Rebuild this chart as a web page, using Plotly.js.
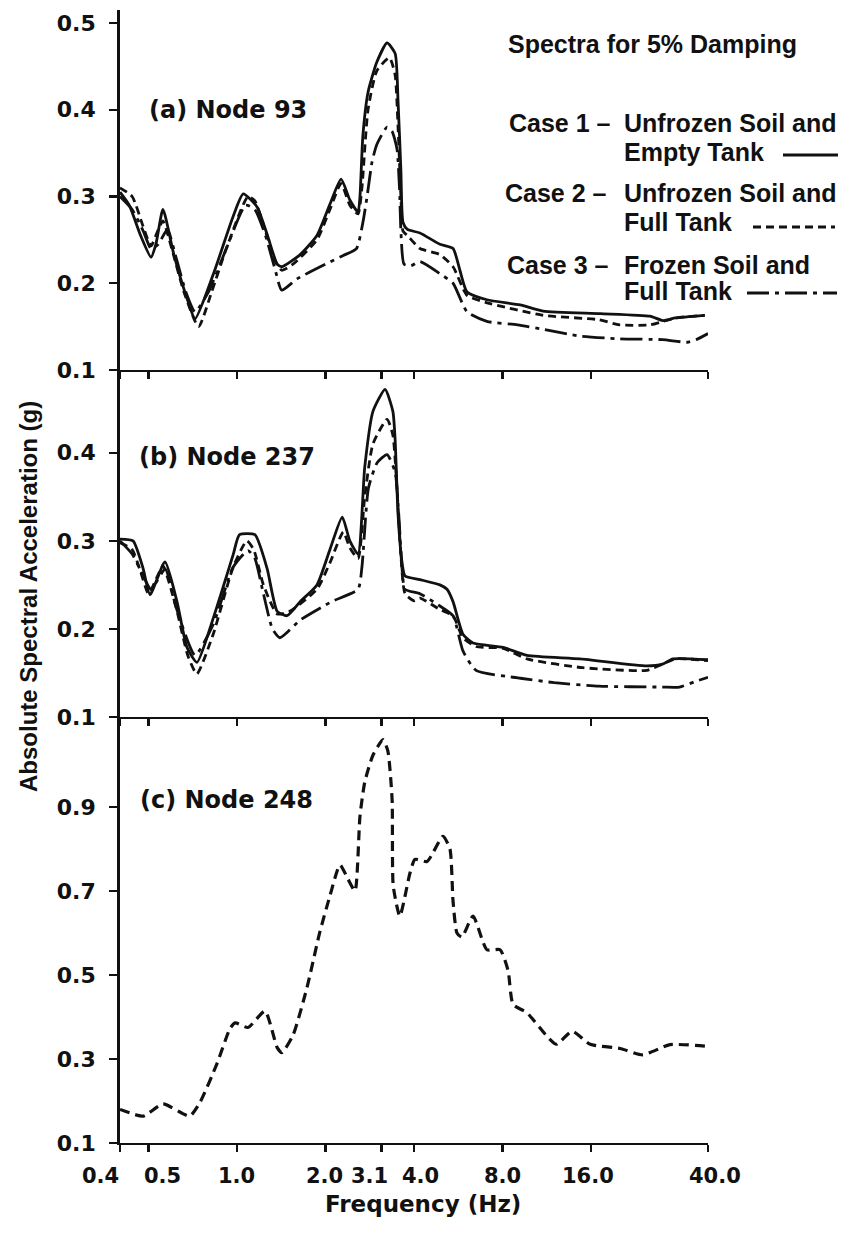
<!DOCTYPE html>
<html>
<head>
<meta charset="utf-8">
<script src="https://cdn.plot.ly/plotly-3.0.1.min.js"></script>
<style>
  html, body { margin: 0; padding: 0; background: #ffffff; }
  #chart { width: 844px; height: 1245px; }
</style>
</head>
<body>
<div id="chart"></div>
<script>
// ---------------- DATA ----------------
// Panel (a) Node 93
const freqA_case1 = [0.40,0.43,0.47,0.51,0.53,0.56,0.61,0.68,0.72,0.83,0.97,1.05,1.17,1.27,1.37,1.42,1.64,1.87,2.07,2.26,2.42,2.58,2.62,2.68,2.79,2.99,3.24,3.45,3.53,3.61,3.67,3.8,4.19,4.9,5.43,5.73,6.06,7.08,9.18,11.0,17.2,25.4,28.1,31.0,39.0];
const accA_case1  = [0.305,0.29,0.255,0.23,0.245,0.285,0.233,0.18,0.159,0.21,0.277,0.303,0.288,0.255,0.222,0.219,0.233,0.255,0.291,0.32,0.296,0.282,0.30,0.37,0.42,0.455,0.477,0.465,0.41,0.33,0.27,0.262,0.258,0.245,0.24,0.215,0.19,0.181,0.175,0.168,0.165,0.162,0.157,0.16,0.163];

const freqA_case2 = [0.40,0.44,0.48,0.51,0.54,0.56,0.60,0.66,0.74,0.82,0.92,1.09,1.15,1.25,1.35,1.42,1.55,1.87,2.07,2.26,2.42,2.58,2.66,2.79,2.99,3.3,3.45,3.53,3.61,3.67,3.8,4.19,4.9,5.43,6.06,7.0,11.0,17.0,20.0,25.4,28.1,31.0,39.0];
const accA_case2  = [0.31,0.30,0.265,0.243,0.262,0.272,0.24,0.19,0.15,0.19,0.24,0.30,0.295,0.26,0.225,0.215,0.222,0.25,0.285,0.315,0.29,0.28,0.31,0.40,0.445,0.46,0.44,0.38,0.30,0.26,0.255,0.24,0.233,0.219,0.186,0.178,0.163,0.158,0.152,0.152,0.156,0.16,0.163];

const freqA_case3 = [0.40,0.44,0.48,0.51,0.54,0.58,0.62,0.67,0.72,0.80,0.92,1.07,1.15,1.25,1.35,1.42,1.6,2.0,2.3,2.55,2.68,2.77,2.88,2.99,3.24,3.37,3.5,3.57,3.61,3.7,3.9,4.19,4.9,5.43,6.06,7.08,9.0,11.0,14.7,20.0,28.0,34.0,36.5,40.0];
const accA_case3  = [0.30,0.285,0.26,0.24,0.245,0.262,0.23,0.19,0.167,0.19,0.24,0.29,0.285,0.255,0.215,0.192,0.205,0.222,0.232,0.24,0.27,0.30,0.34,0.36,0.38,0.375,0.355,0.31,0.26,0.222,0.22,0.225,0.211,0.2,0.167,0.156,0.152,0.147,0.139,0.136,0.135,0.132,0.135,0.142];

// Panel (b) Node 237
const freqB_case1 = [0.40,0.443,0.479,0.506,0.569,0.625,0.676,0.731,0.83,0.97,1.02,1.15,1.265,1.37,1.48,1.64,1.87,2.07,2.28,2.42,2.58,2.72,2.90,3.19,3.39,3.45,3.53,3.64,3.73,4.19,4.9,5.18,5.43,5.87,6.35,8.04,9.69,14.7,24.8,28.0,30.4,40.0];
const accB_case1  = [0.302,0.30,0.269,0.239,0.276,0.231,0.179,0.162,0.212,0.284,0.307,0.307,0.269,0.22,0.215,0.231,0.25,0.29,0.327,0.30,0.285,0.384,0.447,0.472,0.447,0.415,0.33,0.276,0.26,0.256,0.25,0.245,0.231,0.194,0.184,0.179,0.17,0.166,0.158,0.16,0.166,0.165];

const freqB_case2 = [0.40,0.44,0.47,0.50,0.54,0.56,0.62,0.68,0.73,0.83,0.97,1.08,1.14,1.23,1.37,1.51,1.87,2.07,2.3,2.42,2.58,2.72,2.9,3.24,3.39,3.5,3.6,3.73,4.0,4.19,4.9,5.43,5.87,6.5,8.04,9.69,15.0,24.8,28.0,31.0,40.0];
const accB_case2  = [0.298,0.29,0.265,0.24,0.262,0.272,0.225,0.17,0.149,0.194,0.27,0.30,0.29,0.25,0.217,0.22,0.245,0.275,0.31,0.292,0.28,0.35,0.41,0.438,0.42,0.36,0.29,0.24,0.232,0.235,0.222,0.215,0.19,0.18,0.178,0.166,0.156,0.153,0.16,0.166,0.164];

const freqB_case3 = [0.40,0.44,0.48,0.51,0.57,0.62,0.72,0.83,0.97,1.09,1.15,1.23,1.32,1.40,1.64,2.1,2.58,2.66,2.8,3.0,3.24,3.45,3.55,3.64,3.73,4.19,4.9,5.43,5.87,6.5,9.2,12.0,17.0,28.0,32.0,36.0,40.0];
const accB_case3  = [0.30,0.285,0.26,0.245,0.268,0.225,0.17,0.205,0.27,0.289,0.28,0.24,0.20,0.19,0.21,0.231,0.245,0.27,0.36,0.389,0.398,0.378,0.33,0.27,0.245,0.24,0.226,0.215,0.175,0.153,0.144,0.139,0.135,0.134,0.134,0.14,0.145];

// Panel (c) Node 248
const freqC = [0.40,0.48,0.56,0.69,0.75,0.855,0.946,0.985,1.09,1.245,1.37,1.42,1.55,1.73,1.91,2.07,2.24,2.39,2.52,2.62,2.72,2.90,3.14,3.26,3.37,3.40,3.58,3.88,4.03,4.43,5.02,5.30,5.43,5.60,5.82,6.35,7.08,7.85,8.36,8.69,9.69,11.3,12.2,13.8,15.9,20.1,24.0,29.7,40.0];
const accC  = [0.18,0.164,0.193,0.164,0.198,0.289,0.372,0.386,0.375,0.414,0.327,0.315,0.356,0.47,0.60,0.688,0.762,0.727,0.70,0.878,0.959,1.023,1.06,1.033,0.917,0.712,0.64,0.744,0.775,0.77,0.83,0.80,0.676,0.60,0.59,0.64,0.56,0.56,0.51,0.43,0.41,0.355,0.335,0.366,0.335,0.325,0.31,0.334,0.33];

// Tick labels
const xTickVals = [0.4, 0.5, 1.0, 2.0, 3.1, 4.0, 8.0, 16.0, 40.0];
const xTickText = ['0.4', '0.5', '1.0', '2.0', '3.1', '4.0', '8.0', '16.0', '40.0'];
const yTickValsA = [0.1, 0.2, 0.3, 0.4, 0.5];
const yTickTextA = ['0.1', '0.2', '0.3', '0.4', '0.5'];
const yTickValsB = [0.1, 0.2, 0.3, 0.4];
const yTickTextB = ['0.1', '0.2', '0.3', '0.4'];
const yTickValsC = [0.1, 0.3, 0.5, 0.7, 0.9];
const yTickTextC = ['0.1', '0.3', '0.5', '0.7', '0.9'];

const panelLabels = ['(a) Node 93', '(b) Node 237', '(c) Node 248'];
const legendTitle = 'Spectra for 5% Damping';
const caseNames = ['Case 1 \u2013', 'Case 2 \u2013', 'Case 3 \u2013'];
const caseLine1 = ['Unfrozen Soil and', 'Unfrozen Soil and', 'Frozen Soil and'];
const caseLine2 = ['Empty Tank', 'Full Tank', 'Full Tank'];
const xTitle = 'Frequency (Hz)';
const yTitle = 'Absolute Spectral Acceleration (g)';

// ---------------- STYLE / LAYOUT ----------------
const W = 844, H = 1245;
const M = {l: 120, r: 136, t: 10, b: 102};
const plotW = W - M.l - M.r, plotH = H - M.t - M.b;
const px2x = px => (px - M.l) / plotW;
const px2y = py => (H - M.b - py) / plotH;

const INK = '#111111';
const dashStyles = ['solid', '8px,5px', '22px,6px,4px,6px'];
const LW = 2.8;

const tickFont = {family: 'DejaVu Sans, Verdana, sans-serif', size: 22, color: INK, weight: 'bold'};
const xTickFont = {family: 'DejaVu Sans, Verdana, sans-serif', size: 21, color: INK, weight: 'bold'};
const xTitleFont = {family: 'DejaVu Sans, Verdana, sans-serif', size: 23, color: INK, weight: 'bold'};
const panelFont = {family: 'DejaVu Sans, Verdana, sans-serif', size: 24, color: INK, weight: 'bold'};
const legendFont = {family: 'Liberation Sans, Arial, sans-serif', size: 25, color: INK, weight: 'bold'};
const titleFont = {family: 'Liberation Sans, Arial, sans-serif', size: 24, color: INK, weight: 'bold'};

function mkTrace(x, y, xa, ya, dash, width) {
  return {x: x, y: y, xaxis: xa, yaxis: ya, type: 'scatter', mode: 'lines',
    line: {color: INK, width: width || LW, dash: dash, shape: 'spline', smoothing: 0.55},
    hoverinfo: 'skip', showlegend: false};
}

const traces = [
  mkTrace(freqA_case1, accA_case1, 'x', 'y', dashStyles[0]),
  mkTrace(freqA_case2, accA_case2, 'x', 'y', dashStyles[1]),
  mkTrace(freqA_case3, accA_case3, 'x', 'y', dashStyles[2]),
  mkTrace(freqB_case1, accB_case1, 'x2', 'y2', dashStyles[0]),
  mkTrace(freqB_case2, accB_case2, 'x2', 'y2', dashStyles[1]),
  mkTrace(freqB_case3, accB_case3, 'x2', 'y2', dashStyles[2]),
  mkTrace(freqC, accC, 'x3', 'y3', '10px,6px', 3.2)
];

const xRange = [Math.log10(0.4), Math.log10(40)];
function baseX(anchor, extra) {
  return Object.assign({
    type: 'log', range: xRange, anchor: anchor,
    showline: true, linecolor: INK, linewidth: 2.4,
    ticks: 'outside', ticklen: 7, tickwidth: 2.4, tickcolor: INK,
    tickmode: 'array', tickvals: xTickVals, showticklabels: false,
    showgrid: false, zeroline: false, fixedrange: true
  }, extra || {});
}
function baseY(anchor, domain, range, vals, text, extra) {
  return Object.assign({
    domain: domain, range: range, anchor: anchor,
    showline: true, linecolor: INK, linewidth: 2.8,
    ticks: 'outside', ticklen: 8, tickwidth: 2.4, tickcolor: INK,
    tickmode: 'array', tickvals: vals, ticktext: text,
    tickfont: tickFont, ticklabelstandoff: 9,
    showgrid: false, zeroline: false, fixedrange: true
  }, extra || {});
}

// panel boundaries in pixels: top 10, a/b 370, b/c 717, bottom 1143
const domA = [px2y(370), 1];
const domB = [px2y(717), px2y(370)];
const domC = [0, px2y(717)];
const rangeA = [0.1, 0.515];
const rangeB = [0.1, 0.494];
const rangeC = [0.1, 1.114];

const annotations = [];
// x tick labels (nudged like the hand-lettered original)
const xLabelNudge = [-20, 14, 0, -1, -12, 6, 0, -3, 7];
xTickVals.forEach((v, i) => {
  annotations.push({xref: 'x3', yref: 'paper', x: Math.log10(v), y: px2y(1176),
    text: xTickText[i], showarrow: false, xshift: xLabelNudge[i],
    xanchor: 'center', yanchor: 'middle', font: xTickFont});
});
annotations.push({xref: 'paper', yref: 'paper', x: px2x(423), y: px2y(1204),
  text: xTitle, showarrow: false, xanchor: 'center', yanchor: 'middle', font: xTitleFont});
annotations.push({xref: 'paper', yref: 'paper', x: px2x(28), y: px2y(597),
  text: yTitle, showarrow: false, textangle: -90, xanchor: 'center', yanchor: 'middle', font: titleFont});

// panel labels
const panelPos = [[147, 110], [137, 457], [138, 800]];
panelLabels.forEach((t, i) => {
  annotations.push({xref: 'paper', yref: 'paper', x: px2x(panelPos[i][0]), y: px2y(panelPos[i][1]),
    text: t, showarrow: false, xanchor: 'left', yanchor: 'middle', font: panelFont});
});

// legend block
annotations.push({xref: 'paper', yref: 'paper', x: px2x(506), y: px2y(44),
  text: legendTitle, showarrow: false, xanchor: 'left', yanchor: 'middle', font: legendFont});
const caseY = [[123, 152], [193, 222], [265, 291]];
const caseX = [507, 503, 505];
caseNames.forEach((t, i) => {
  annotations.push({xref: 'paper', yref: 'paper', x: px2x(caseX[i]), y: px2y(caseY[i][0]),
    text: t, showarrow: false, xanchor: 'left', yanchor: 'middle', font: legendFont});
  annotations.push({xref: 'paper', yref: 'paper', x: px2x(622), y: px2y(caseY[i][0]),
    text: caseLine1[i], showarrow: false, xanchor: 'left', yanchor: 'middle', font: legendFont});
  annotations.push({xref: 'paper', yref: 'paper', x: px2x(622), y: px2y(caseY[i][1]),
    text: caseLine2[i], showarrow: false, xanchor: 'left', yanchor: 'middle', font: legendFont});
});
const legendLines = [[783, 838, 155], [753, 835, 227], [747, 837, 293]];
const shapes = legendLines.map((s, i) => ({
  type: 'line', xref: 'paper', yref: 'paper',
  x0: px2x(s[0]), x1: px2x(s[1]), y0: px2y(s[2]), y1: px2y(s[2]),
  line: {color: INK, width: LW, dash: dashStyles[i]}
}));

const layout = {
  width: W, height: H, margin: M,
  paper_bgcolor: '#ffffff', plot_bgcolor: 'rgba(0,0,0,0)',
  showlegend: false,
  xaxis: baseX('y'),
  xaxis2: baseX('y2'),
  xaxis3: baseX('y3'),
  xaxis4: baseX('y', {overlaying: 'x', ticks: 'inside', showline: false}),
  xaxis5: baseX('y2', {overlaying: 'x2', ticks: 'inside', showline: false}),
  xaxis6: baseX('y3', {overlaying: 'x3', ticks: 'inside', showline: false}),
  yaxis: baseY('x', domA, rangeA, yTickValsA, yTickTextA),
  yaxis2: baseY('x2', domB, rangeB, yTickValsB, yTickTextB),
  yaxis3: baseY('x3', domC, rangeC, yTickValsC, yTickTextC),
  yaxis4: baseY('x', domA, rangeA, yTickValsA, yTickTextA, {overlaying: 'y', ticks: 'inside', ticklen: 6, showline: false, showticklabels: false}),
  yaxis5: baseY('x2', domB, rangeB, yTickValsB, yTickTextB, {overlaying: 'y2', ticks: 'inside', ticklen: 6, showline: false, showticklabels: false}),
  yaxis6: baseY('x3', domC, rangeC, yTickValsC, yTickTextC, {overlaying: 'y3', ticks: 'inside', ticklen: 6, showline: false, showticklabels: false}),
  annotations: annotations,
  shapes: shapes
};

Plotly.newPlot('chart', traces, layout, {displayModeBar: false, staticPlot: true});
</script>
</body>
</html>
